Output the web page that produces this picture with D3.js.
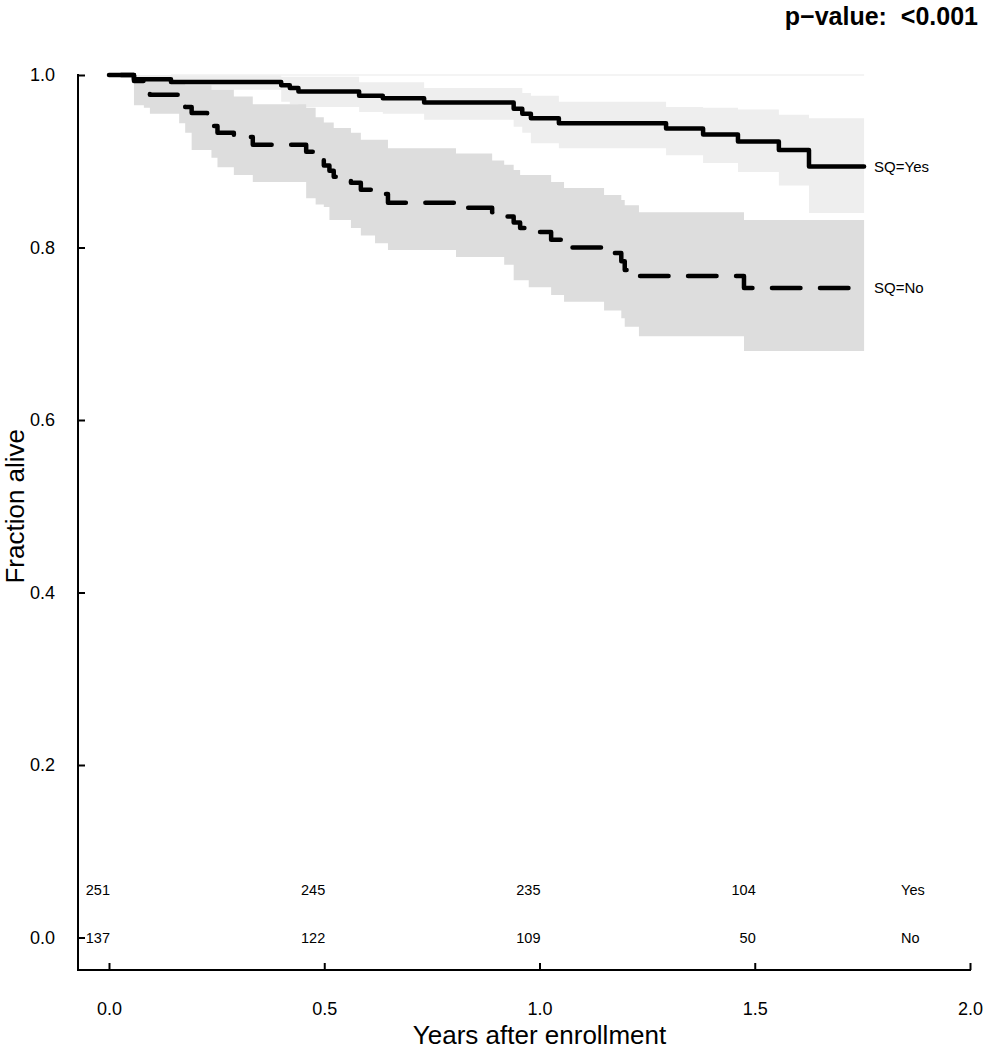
<!DOCTYPE html>
<html>
<head>
<meta charset="utf-8">
<script src="https://cdn.jsdelivr.net/npm/d3@7"></script>
<style>
  html, body { margin: 0; padding: 0; background: #fff; }
  svg { display: block; font-family: "Liberation Sans", Arial, Helvetica, sans-serif; }
</style>
</head>
<body>
<svg id="chart" width="985" height="1050"></svg>
<script>
// ---------------- data ----------------
// SQ=Yes group (solid line): event times (years), survival, lower CI, upper CI
const yesTime  = [0.000, 0.058, 0.144, 0.400, 0.420, 0.440, 0.581, 0.636, 0.732, 0.940, 0.960, 0.980, 1.045, 1.294, 1.380, 1.461, 1.556, 1.626];
const yesSurv  = [1.000, 0.995, 0.992, 0.988, 0.985, 0.981, 0.976, 0.973, 0.968, 0.961, 0.955, 0.950, 0.944, 0.938, 0.931, 0.923, 0.913, 0.894];
const yesLower = [1.000, 0.988, 0.983, 0.969, 0.966, 0.963, 0.957, 0.955, 0.948, 0.940, 0.933, 0.921, 0.915, 0.907, 0.898, 0.8875, 0.872, 0.840];
const yesUpper = [1.000, 1.000, 1.000, 0.998, 0.998, 0.998, 0.9915, 0.9915, 0.985, 0.985, 0.979, 0.976, 0.969, 0.963, 0.962, 0.960, 0.954, 0.950];

// SQ=No group (dashed line)
const noTime  = [0.000, 0.058, 0.081, 0.095, 0.163, 0.177, 0.192, 0.228, 0.238, 0.252, 0.290, 0.334, 0.458, 0.480, 0.499, 0.512, 0.522, 0.562, 0.585, 0.618, 0.648, 0.806, 0.890, 0.918, 0.940, 0.955, 0.975, 1.027, 1.057, 1.150, 1.190, 1.198, 1.231, 1.475];
const noSurv  = [1.000, 0.993, 0.985, 0.977, 0.970, 0.963, 0.956, 0.950, 0.941, 0.933, 0.928, 0.919, 0.911, 0.905, 0.895, 0.889, 0.882, 0.875, 0.867, 0.862, 0.852, 0.846, 0.841, 0.836, 0.829, 0.8225, 0.818, 0.809, 0.800, 0.7935, 0.784, 0.774, 0.767, 0.753];
const noLower = [1.000, 0.965, 0.962, 0.955, 0.944, 0.933, 0.913, 0.913, 0.904, 0.893, 0.884, 0.876, 0.857, 0.850, 0.847, 0.832, 0.832, 0.8225, 0.814, 0.805, 0.797, 0.789, 0.789, 0.780, 0.762, 0.762, 0.754, 0.745, 0.737, 0.727, 0.718, 0.708, 0.697, 0.680];
const noUpper = [1.000, 0.995, 0.995, 0.993, 0.990, 0.988, 0.988, 0.988, 0.983, 0.983, 0.975, 0.966, 0.962, 0.951, 0.945, 0.945, 0.9385, 0.933, 0.925, 0.925, 0.915, 0.909, 0.901, 0.896, 0.890, 0.884, 0.884, 0.876, 0.869, 0.861, 0.855, 0.849, 0.841, 0.832];

const followUpEnd = 1.754;

// numbers at risk
const riskTimes = [0.0, 0.5, 1.0, 1.5];
const riskYes = [251, 245, 235, 104];
const riskNo  = [137, 122, 109, 50];
const riskGroupLabels = ["Yes", "No"];

const xTicks = [0.0, 0.5, 1.0, 1.5, 2.0];
const yTicks = [0.0, 0.2, 0.4, 0.6, 0.8, 1.0];

const curveLabels = ["SQ=Yes", "SQ=No"];
const pValueText = "p\u2212value:  <0.001";

// ---------------- drawing ----------------
const svg = d3.select("#chart");
const x = d3.scaleLinear().domain([0, 2]).range([109, 970]);
const y = d3.scaleLinear().domain([0, 1]).range([937.5, 75]);

function rows(t, s, lo, up) {
  const r = t.map((d, i) => ({ t: d, s: s[i], lo: lo[i], up: up[i] }));
  const last = r[r.length - 1];
  r.push({ t: followUpEnd, s: last.s, lo: last.lo, up: last.up });
  return r;
}
const yesRows = rows(yesTime, yesSurv, yesLower, yesUpper);
const noRows = rows(noTime, noSurv, noLower, noUpper);

const area = d3.area().curve(d3.curveStepAfter)
  .x(d => x(d.t)).y0(d => y(d.lo)).y1(d => y(d.up));
const line = d3.line().curve(d3.curveStepAfter)
  .x(d => x(d.t)).y(d => y(d.s));

// CI bands
svg.append("path").datum(yesRows).attr("d", area).attr("fill", "#eeeeee");
svg.append("path").datum(noRows).attr("d", area).attr("fill", "#dddddd");
// faint upper cap line at 1.0
svg.append("line")
  .attr("x1", x(yesTime[2])).attr("x2", x(followUpEnd))
  .attr("y1", y(1)).attr("y2", y(1))
  .attr("stroke", "#f1f1f1").attr("stroke-width", 1.5);

// survival curves
svg.append("path").datum(noRows).attr("d", line)
  .attr("fill", "none").attr("stroke", "#000").attr("stroke-width", 4.5)
  .attr("stroke-linecap", "round").attr("stroke-linejoin", "round")
  .attr("stroke-dasharray", "28.5,19.5").attr("stroke-dashoffset", 36);
svg.append("path").datum(yesRows).attr("d", line)
  .attr("fill", "none").attr("stroke", "#000").attr("stroke-width", 4.5)
  .attr("stroke-linecap", "round").attr("stroke-linejoin", "round");

// axes
const axisX0 = x(-0.072);
const axisY0 = 970;
const yAxis = d3.axisLeft(y).tickValues(yTicks).tickFormat(d3.format(".1f"))
  .tickSizeInner(-7).tickSizeOuter(0).tickPadding(23);
const gy = svg.append("g").attr("transform", `translate(${axisX0},0)`).call(yAxis);
gy.select(".domain").remove();
gy.selectAll(".tick line").attr("stroke-width", 2);
gy.selectAll("text").attr("font-size", 18).attr("font-family", "Liberation Sans, Arial, sans-serif").attr("fill", "#000");

const xAxis = d3.axisBottom(x).tickValues(xTicks).tickFormat(d3.format(".1f"))
  .tickSizeInner(-7).tickSizeOuter(0).tickPadding(32);
const gx = svg.append("g").attr("transform", `translate(0,${axisY0})`).call(xAxis);
gx.select(".domain").remove();
gx.selectAll(".tick line").attr("stroke-width", 2);
gx.selectAll("text").attr("font-size", 18).attr("font-family", "Liberation Sans, Arial, sans-serif").attr("fill", "#000");

svg.append("line").attr("x1", axisX0).attr("x2", axisX0).attr("y1", y(1) - 1).attr("y2", axisY0 + 1)
  .attr("stroke", "#000").attr("stroke-width", 2);
svg.append("line").attr("x1", axisX0 - 1).attr("x2", x(2) + 1).attr("y1", axisY0).attr("y2", axisY0)
  .attr("stroke", "#000").attr("stroke-width", 2);

// axis titles
svg.append("text").attr("x", x(1)).attr("y", 1044).attr("text-anchor", "middle")
  .attr("font-size", 26).text("Years after enrollment");
svg.append("text").attr("transform", `translate(24,${(y(1) + y(0)) / 2}) rotate(-90)`)
  .attr("text-anchor", "middle").attr("font-size", 26).text("Fraction alive");

// p-value
svg.append("text").attr("x", 978).attr("y", 25).attr("text-anchor", "end")
  .attr("font-size", 25).attr("font-weight", "bold").style("white-space", "pre")
  .text(pValueText);

// curve labels
const lastYes = yesRows[yesRows.length - 1], lastNo = noRows[noRows.length - 1];
svg.append("text").attr("x", x(followUpEnd) + 10).attr("y", y(lastYes.s)).attr("dy", "0.35em")
  .attr("font-size", 15).text(curveLabels[0]);
svg.append("text").attr("x", x(followUpEnd) + 10).attr("y", y(lastNo.s)).attr("dy", "0.35em")
  .attr("font-size", 15).text(curveLabels[1]);

// numbers at risk
const riskRowY = [895, 943];
[riskYes, riskNo].forEach((arr, gi) => {
  svg.selectAll(null).data(arr).enter().append("text")
    .attr("x", (d, i) => x(riskTimes[i]) + 1).attr("y", riskRowY[gi])
    .attr("text-anchor", "end").attr("font-size", 14.5).text(d => d);
  svg.append("text").attr("x", x(1.84)).attr("y", riskRowY[gi])
    .attr("font-size", 14.5).text(riskGroupLabels[gi]);
});
</script>
</body>
</html>
